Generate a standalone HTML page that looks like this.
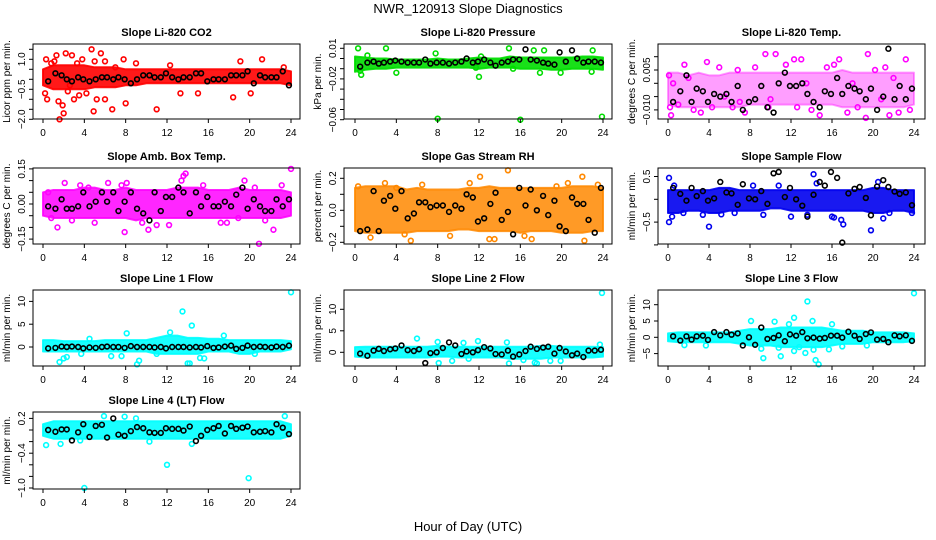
<!DOCTYPE html>
<html><head><meta charset="utf-8"><style>
html,body{margin:0;padding:0;background:#fff}
svg{display:block;font-family:"Liberation Sans",sans-serif}
</style></head><body>
<svg id="chart" width="936" height="540" viewBox="0 0 936 540" xmlns="http://www.w3.org/2000/svg">
<text x="468" y="13" text-anchor="middle" font-size="13">NWR_120913  Slope Diagnostics</text>
<text x="468" y="531" text-anchor="middle" font-size="13">Hour of Day (UTC)</text>
</svg>
<script>
const xTicks=[0,4,8,12,16,20,24];
const bandHours=[0,1,2,3,4,5,6,7,8,9,10,11,12,13,14,15,16,17,18,19,20,21,22,23,24];
const blackHours=[0.5,1.2,1.8,2.3,2.8,3.4,3.9,4.5,5.1,5.7,6.2,6.8,7.3,7.9,8.5,9.1,9.7,10.3,10.8,11.4,11.9,12.5,13.1,13.6,14.2,14.8,15.3,15.9,16.5,17.0,17.6,18.2,18.7,19.3,19.8,20.4,21.0,21.5,22.1,22.6,23.2,23.8];

// CO2
const co2Lo=[-0.3,-0.5,-0.5,-0.5,-0.5,-0.4,-0.4,-0.4,-0.3,-0.3,-0.2,-0.2,-0.2,-0.2,-0.2,-0.2,-0.2,-0.2,-0.2,-0.2,-0.2,-0.2,-0.2,-0.2,-0.3];
const co2Hi=[0.5,0.7,0.7,0.7,0.7,0.6,0.6,0.6,0.5,0.5,0.5,0.5,0.5,0.5,0.5,0.5,0.5,0.5,0.5,0.5,0.5,0.5,0.5,0.5,0.4];
const co2Out=[[0.3,1.0],[0.4,-1.0],[0.8,0.8],[1.3,1.2],[1.5,-1.1],[1.6,-2.0],[1.9,-1.3],[2.2,1.3],[2.4,-0.6],[2.8,1.2],[3.0,-1.0],[3.5,-0.8],[4.7,1.5],[4.9,-1.6],[5.2,-1.0],[5.6,1.3],[6.0,-1.0],[6.7,-1.5],[7.8,1.0],[8.0,-1.2],[9.0,0.8],[11.0,-1.5],[12.3,0.7],[13.3,-0.7],[19.1,0.9],[18.4,-0.9],[21.2,1.0],[23.3,0.6],[20.1,-0.7],[15.0,-0.7],[6.0,0.9],[3.3,0.8],[1.1,0.9],[2.0,-1.7],[0.2,-0.7],[2.6,-0.3],[4.2,-0.7],[5.0,0.9],[7.0,0.6],[3.8,1.0]];
const co2Black=[-0.1,0.3,0.2,0.0,-0.1,0.1,0.0,-0.1,0.0,0.1,0.1,0.0,0.1,0.0,-0.2,0.0,0.2,0.2,0.1,0.1,0.3,0.1,0.0,0.1,0.1,0.3,0.3,-0.1,0.0,0.0,0.0,0.2,0.2,0.2,0.4,-0.2,0.2,0.1,0.1,0.1,0.4,-0.3];

// Pressure
const prLo=[-0.013,-0.011,-0.010,-0.010,-0.009,-0.009,-0.009,-0.009,-0.009,-0.009,-0.009,-0.009,-0.010,-0.009,-0.009,-0.009,-0.010,-0.010,-0.010,-0.011,-0.011,-0.010,-0.010,-0.010,-0.011];
const prHi=[0.002,0.001,0.000,0.000,-0.001,-0.001,-0.001,-0.001,0.000,-0.001,-0.001,0.000,0.001,0.000,0.000,0.002,0.001,0.001,0.001,0.001,0.001,0.001,0.002,0.002,0.001];
const prOut=[[0.3,0.010],[0.5,-0.012],[0.6,-0.016],[3.0,0.010],[4.0,-0.014],[8.0,-0.059],[12.0,-0.018],[12.2,0.002],[16.0,-0.060],[14.9,0.010],[15.3,-0.010],[17.9,-0.014],[18.3,0.008],[19.9,-0.014],[23.0,0.008],[23.9,-0.057],[17.3,0.008],[22.9,-0.013],[1.2,0.003],[7.8,0.005],[11.7,-0.009]];
const prBlack=[-0.008,-0.004,-0.003,-0.005,-0.004,-0.003,-0.002,-0.003,-0.004,-0.004,-0.004,-0.001,-0.005,-0.004,-0.004,-0.005,-0.004,-0.003,0.000,-0.004,-0.003,-0.001,-0.004,-0.007,-0.004,-0.003,-0.001,-0.001,0.009,-0.001,-0.002,-0.004,-0.005,-0.006,0.006,-0.003,0.008,0.000,-0.004,-0.003,-0.003,-0.004];

// Li-820 temp
const tpLo=[-0.008,-0.009,-0.009,-0.009,-0.009,-0.009,-0.009,-0.009,-0.008,-0.008,-0.008,-0.008,-0.008,-0.008,-0.008,-0.008,-0.008,-0.009,-0.009,-0.009,-0.009,-0.009,-0.009,-0.009,-0.008];
const tpHi=[0.004,0.004,0.003,0.004,0.003,0.003,0.004,0.004,0.004,0.004,0.004,0.004,0.004,0.004,0.004,0.004,0.004,0.005,0.004,0.004,0.004,0.004,0.004,0.004,0.004];
const tpOut=[[0.2,-0.009],[0.3,-0.012],[0.1,0.003],[1.6,0.007],[3.2,-0.011],[3.8,0.008],[6.8,0.005],[7.5,-0.011],[9.5,0.011],[10.5,0.011],[12.3,0.009],[13.0,0.009],[14.0,-0.010],[14.8,-0.012],[16.7,0.009],[19.5,0.011],[19.3,-0.013],[20.2,0.005],[21.6,-0.012],[22.5,-0.011],[23.2,0.009],[2.5,-0.010],[5.0,0.006],[8.5,0.006],[11.5,0.007],[15.5,0.006],[17.5,-0.011],[18.5,-0.009],[9.8,-0.009],[12.6,-0.009],[4.3,-0.009],[1.0,-0.008],[6.3,-0.009],[21.2,0.006],[23.6,-0.010],[16.2,0.007],[0.5,0.0],[2.0,0.002],[5.5,-0.005],[7.0,-0.007],[10.0,-0.006],[13.5,0.0],[18.0,0.0],[20.8,-0.006],[22.0,0.002]];
const tpBlack=[-0.007,-0.003,0.003,-0.007,-0.002,-0.003,-0.007,-0.004,-0.005,-0.004,-0.007,-0.001,-0.010,-0.007,-0.006,-0.001,-0.009,-0.011,0.000,0.004,-0.001,-0.001,0.000,-0.004,-0.007,-0.009,-0.003,-0.004,0.002,-0.004,-0.001,-0.002,-0.003,-0.006,-0.002,-0.010,-0.005,0.013,-0.006,-0.001,-0.006,-0.002];

// Amb box temp
const abLo=[-0.05,-0.06,-0.06,-0.06,-0.06,-0.06,-0.06,-0.06,-0.06,-0.07,-0.06,-0.06,-0.06,-0.06,-0.06,-0.06,-0.06,-0.06,-0.06,-0.06,-0.06,-0.06,-0.06,-0.06,-0.05];
const abHi=[0.05,0.06,0.06,0.06,0.07,0.07,0.06,0.06,0.07,0.06,0.06,0.06,0.06,0.07,0.07,0.07,0.06,0.06,0.06,0.07,0.06,0.06,0.06,0.06,0.05];
const abOut=[[0.8,-0.06],[1.4,-0.1],[2.1,0.09],[2.8,-0.07],[3.6,0.08],[5.0,-0.08],[6.3,0.09],[7.9,-0.12],[7.6,0.08],[8.1,0.09],[9.6,-0.08],[10.2,-0.11],[11.0,-0.09],[12.2,-0.09],[13.4,0.1],[13.6,0.12],[13.8,0.13],[15.5,0.08],[17.2,-0.08],[17.8,-0.08],[19.5,0.1],[20.5,0.07],[20.9,-0.17],[22.3,-0.11],[23.1,0.08],[24.0,0.15],[18.9,-0.06],[21.5,-0.07],[4.4,0.07],[0.5,0.05]];
const abBlack=[-0.01,-0.02,0.02,-0.02,-0.02,-0.01,0.05,-0.01,0.01,0.05,0.01,0.05,-0.03,0.01,0.05,-0.02,-0.04,-0.07,0.05,-0.03,0.03,0.03,0.07,0.05,-0.04,0.05,-0.01,0.03,-0.01,-0.01,0.01,-0.01,0.04,0.07,-0.02,0.02,-0.01,-0.03,-0.03,0.02,-0.01,0.02];

// Gas stream RH
const rhLo=[-0.13,-0.14,-0.14,-0.14,-0.14,-0.14,-0.13,-0.13,-0.13,-0.13,-0.12,-0.12,-0.13,-0.13,-0.13,-0.13,-0.14,-0.13,-0.13,-0.13,-0.14,-0.14,-0.14,-0.13,-0.13];
const rhHi=[0.14,0.15,0.15,0.15,0.15,0.13,0.14,0.13,0.13,0.13,0.13,0.14,0.14,0.15,0.14,0.14,0.14,0.14,0.14,0.14,0.14,0.15,0.15,0.15,0.14];
const rhOut=[[0.3,0.15],[1.5,-0.17],[2.9,0.17],[4.0,0.14],[4.8,-0.15],[5.4,-0.19],[6.5,0.16],[9.2,-0.16],[11.1,0.17],[12.1,0.21],[13.0,-0.18],[13.5,-0.18],[14.8,0.25],[16.4,-0.16],[17.1,-0.18],[19.5,0.15],[20.6,0.17],[22.0,0.21],[22.2,-0.19],[23.5,0.16]];
const rhBlack=[-0.13,-0.12,0.12,-0.13,0.06,0.09,0.01,0.12,-0.05,-0.02,0.05,0.05,0.02,0.03,0.03,-0.01,0.03,0.01,0.10,0.08,-0.07,-0.05,0.04,0.11,-0.06,-0.01,-0.15,0.14,0.03,0.13,0.00,0.09,-0.03,0.06,-0.10,-0.13,0.08,0.04,0.04,-0.06,-0.14,0.14];

// Sample flow
const sfLo=[-0.3,-0.3,-0.25,-0.25,-0.3,-0.3,-0.25,-0.25,-0.25,-0.25,-0.2,-0.2,-0.25,-0.25,-0.25,-0.25,-0.25,-0.25,-0.25,-0.25,-0.3,-0.3,-0.25,-0.25,-0.3];
const sfHi=[0.2,0.2,0.2,0.2,0.2,0.25,0.25,0.2,0.2,0.2,0.2,0.2,0.2,0.2,0.2,0.2,0.2,0.2,0.2,0.2,0.25,0.25,0.2,0.2,0.2];
const sfOut=[[0.1,0.47],[0.1,-0.5],[0.4,-0.38],[0.6,0.3],[1.5,-0.3],[3.4,-0.34],[4.0,-0.6],[5.2,-0.33],[6.5,-0.3],[8.3,0.3],[9.3,-0.34],[10.8,0.3],[12.0,-0.38],[13.6,-0.34],[14.2,0.55],[14.5,0.35],[16.0,-0.38],[16.2,-0.4],[16.9,-0.45],[17.1,-0.55],[19.8,-0.68],[20.5,0.38],[21.0,-0.42],[23.8,-0.3],[21.6,-0.3]];
const sfBlack=[0.25,0.12,-0.03,0.25,0.07,0.18,-0.03,0.02,0.38,0.15,0.13,-0.12,0.33,0.02,0.00,0.18,-0.1,0.57,0.6,0.05,0.25,0.0,-0.14,-0.38,0.1,0.38,0.3,0.6,0.47,-0.95,0.13,0.23,0.27,0.03,-0.35,0.28,0.42,0.27,0.17,0.12,0.15,-0.13];

// Line 1 flow
const l1Lo=[-1,-1,-1,-1,-1,-1,-1,-1,-1,-1,-1,-1.5,-1.5,-1.5,-1.5,-1.5,-1,-1,-1,-1.5,-1.5,-1,-1,-1,-0.5];
const l1Hi=[1.5,1.5,1.3,1.3,1.3,1.3,1.5,1.5,1.5,1.5,1.5,2,2.5,2.5,2,2,1.8,1.8,1.5,1.5,1.5,1.5,1.5,1.5,1.3];
const l1Out=[[1.6,-3.3],[2.0,-2.5],[2.3,-2.2],[3.7,-1.5],[6.6,-2.0],[7.6,-2.0],[9.1,-3.8],[9.3,-3.0],[8.1,3.0],[13.5,7.8],[14.0,-3.6],[14.2,-3.6],[14.4,4.7],[15.2,-2.4],[15.6,-2.5],[11.0,-1.5],[12.3,3.2],[24.0,12.0],[17.5,2.5],[20.5,-1.5],[4.5,1.8]];
const l1Black=[-0.3,-0.2,0.1,0.0,0.1,0.0,-0.3,-0.1,-0.2,0.0,0.1,0.0,0.0,-0.2,0.2,0.0,0.0,0.0,-0.1,0.0,-0.3,0.0,0.0,0.0,-0.1,0.0,-0.1,0.2,-0.2,-0.1,0.1,0.3,-0.4,-0.2,0.3,0.0,0.1,0.0,-0.1,0.1,0.0,0.3];

// Line 2 flow
const l2Lo=[-1,-1.2,-1.2,-1.2,-1.2,-1.2,-1.2,-1.2,-1,-1,-1.2,-1.2,-1.2,-1.2,-1.2,-1.5,-1.5,-1.5,-1.5,-1.2,-1.2,-1.2,-1.2,-1.2,-1];
const l2Hi=[1.2,1.3,1.3,1.3,1.3,1.3,1.3,1.3,1.5,1.3,1.3,1.3,1.3,1.3,1.3,1.3,1.3,1.3,1.5,1.5,1.3,1.3,1.3,1.3,1.2];
const l2Out=[[6.0,3.2],[8.1,-2.5],[8.0,2.4],[9.4,-2.0],[10.5,2.2],[11.0,-1.5],[11.9,2.6],[14.7,2.3],[14.9,-2.6],[17.4,-2.4],[17.6,-2.6],[18.9,-2.0],[19.9,-2.0],[23.9,13.8],[23.7,1.8],[16.3,-1.8]];
const l2Black=[-0.3,-0.8,0.4,0.8,0.3,0.7,0.9,1.6,0.5,0.3,0.7,-2.5,-0.2,0.0,1.0,2.3,1.6,-0.4,0.2,0.0,0.5,1.2,0.9,-0.4,-0.5,0.4,-1.0,-0.5,0.3,1.3,0.8,1.1,1.3,-0.3,1.0,0.2,-0.7,-0.3,-1.1,0.4,0.4,0.6];

// Line 3 flow
const l3Lo=[-1.2,-1.5,-1.5,-1.5,-1.5,-1.5,-1.5,-2,-2.5,-2.5,-2.5,-3,-3,-3,-3,-3,-2.5,-2,-2,-2,-1.5,-1.5,-1.5,-1.5,-1.2];
const l3Hi=[1.2,1.5,1.5,1.5,1.5,1.5,1.5,2,2.5,2.5,2.5,3,3,3,3,3,2.5,2,2,2,1.5,1.5,1.5,1.5,1.2];
const l3Out=[[1.6,-2.4],[3.7,-2.5],[8.1,5.0],[9.3,-6.4],[9.1,-3.5],[10.4,4.8],[11.0,-5.8],[12.3,6.0],[12.3,-4.2],[13.6,11.0],[13.4,-4.8],[14.1,5.0],[14.4,-7.0],[14.7,-8.3],[14.2,-3.8],[16.0,4.0],[15.7,-3.7],[17.0,-2.8],[19.4,-2.5],[24.0,13.5],[10.8,-3.2],[12.8,-3.0],[11.8,4.0]];
const l3Black=[0.3,-1.0,0.3,-0.7,0.3,0.5,-0.8,1.6,0.6,1.6,0.8,1.2,-2.5,0.0,-2.3,3.0,-0.5,-0.2,0.6,-1.2,0.9,0.5,1.6,-0.3,-0.1,-0.4,-0.2,0.5,0.5,-0.1,1.7,0.5,-0.5,1.0,1.5,-0.7,-0.5,-1.5,0.6,0.3,0.6,-1.1];

// Line 4 (LT) flow
const l4Lo=[-0.1,-0.15,-0.15,-0.15,-0.15,-0.15,-0.15,-0.15,-0.15,-0.15,-0.15,-0.15,-0.15,-0.15,-0.15,-0.15,-0.15,-0.15,-0.15,-0.15,-0.15,-0.15,-0.15,-0.15,-0.1];
const l4Hi=[0.1,0.15,0.15,0.15,0.15,0.15,0.15,0.15,0.15,0.15,0.15,0.15,0.15,0.15,0.15,0.15,0.15,0.15,0.15,0.15,0.15,0.15,0.15,0.15,0.1];
const l4Out=[[0.3,-0.26],[1.7,-0.24],[4.0,-1.0],[5.9,0.24],[7.9,0.23],[10.3,-0.2],[12.0,-0.6],[14.4,-0.24],[19.9,-0.83],[23.4,0.24],[3.6,-0.18],[9.0,0.2]];
const l4Black=[0.0,-0.03,0.01,0.01,-0.18,-0.04,0.1,-0.12,0.07,0.09,-0.13,0.2,-0.08,-0.1,-0.02,0.05,0.03,-0.04,-0.05,-0.05,0.03,0.02,0.02,-0.01,0.06,-0.19,-0.1,0.0,0.03,0.07,-0.06,0.07,0.02,0.04,0.06,-0.04,-0.03,-0.02,-0.04,0.1,0.04,-0.07];

const panels=[
 {n:'co2',title:'Slope Li-820 CO2',ylab:'Licor ppm per min.',bx:[33,300],x0:43,x24:291,by:[44,119],v0:1.5,y0:49.3,ppu:20,ticks:[1.5,1.0,0.5,0,-0.5,-1.0,-1.5,-2.0],labs:[[1.0,'1.0'],[-0.5,'\u22120.5'],[-2.0,'\u22122.0']],col:'#ff0000',lo:co2Lo,hi:co2Hi,out:co2Out,blk:co2Black,op:0.9},
 {n:'pressure',title:'Slope Li-820 Pressure',ylab:'kPa per min.',bx:[344,612],x0:355,x24:603,by:[44,119],v0:0.01,y0:48.3,ppu:1020,ticks:[0.01,0,-0.01,-0.02,-0.03,-0.04,-0.05,-0.06],labs:[[0.01,'0.01'],[-0.02,'\u22120.02'],[-0.06,'\u22120.06']],col:'#00dd00',lo:prLo,hi:prHi,out:prOut,blk:prBlack,op:0.9},
 {n:'li820-temp',title:'Slope Li-820 Temp.',ylab:'degrees C per min.',bx:[658,925],x0:668,x24:914,by:[44,119],v0:0.01,y0:56.7,ppu:2660,ticks:[0.01,0.005,0,-0.005,-0.01],labs:[[0.005,'0.005'],[-0.01,'\u22120.010']],col:'#ff00ff',lo:tpLo,hi:tpHi,out:tpOut,blk:tpBlack,op:0.38},
 {n:'amb-box-temp',title:'Slope Amb. Box Temp.',ylab:'degrees C per min.',bx:[33,300],x0:43,x24:291,by:[168,244],v0:0,y0:204,ppu:234,ticks:[0.15,0.1,0.05,0,-0.05,-0.1,-0.15],labs:[[0.15,'0.15'],[0,'0.00'],[-0.15,'\u22120.15']],col:'#ff00ff',lo:abLo,hi:abHi,out:abOut,blk:abBlack,op:0.85},
 {n:'gas-stream-rh',title:'Slope Gas Stream RH',ylab:'percent per min.',bx:[344,612],x0:355,x24:603,by:[168,244],v0:0,y0:210.3,ppu:160,ticks:[0.2,0.1,0,-0.1,-0.2],labs:[[0.2,'0.2'],[0,'0.0'],[-0.2,'\u22120.2']],col:'#ff8800',lo:rhLo,hi:rhHi,out:rhOut,blk:rhBlack,op:0.85},
 {n:'sample-flow',title:'Slope Sample Flow',ylab:'ml/min per min.',bx:[658,925],x0:668,x24:914,by:[168,244],v0:0,y0:199.3,ppu:45.6,ticks:[0.5,0,-0.5,-1.0],labs:[[0.5,'0.5'],[-0.5,'\u22120.5']],col:'#0000ee',lo:sfLo,hi:sfHi,out:sfOut,blk:sfBlack,op:0.9},
 {n:'line1-flow',title:'Slope Line 1 Flow',ylab:'ml/min per min.',bx:[33,300],x0:43,x24:291,by:[290,366],v0:0,y0:347,ppu:4.56,ticks:[10,5,0],labs:[[10,'10'],[5,'5'],[0,'0']],col:'#00ffff',lo:l1Lo,hi:l1Hi,out:l1Out,blk:l1Black,op:0.9},
 {n:'line2-flow',title:'Slope Line 2 Flow',ylab:'ml/min per min.',bx:[344,612],x0:355,x24:603,by:[290,366],v0:0,y0:352.3,ppu:4.3,ticks:[10,5,0],labs:[[10,'10'],[5,'5'],[0,'0']],col:'#00ffff',lo:l2Lo,hi:l2Hi,out:l2Out,blk:l2Black,op:0.9},
 {n:'line3-flow',title:'Slope Line 3 Flow',ylab:'ml/min per min.',bx:[658,925],x0:668,x24:914,by:[290,366],v0:0,y0:337.3,ppu:3.26,ticks:[10,5,0,-5],labs:[[10,'10'],[5,'5'],[0,'0'],[-5,'\u22125']],col:'#00ffff',lo:l3Lo,hi:l3Hi,out:l3Out,blk:l3Black,op:0.9},
 {n:'line4-flow',title:'Slope Line 4 (LT) Flow',ylab:'ml/min per min.',bx:[33,300],x0:43,x24:291,by:[412,489],v0:0,y0:430,ppu:58,ticks:[0.2,0,-0.2,-0.4,-0.6,-0.8,-1.0],labs:[[0.2,'0.2'],[-0.4,'\u22120.4'],[-1.0,'\u22121.0']],col:'#00ffff',lo:l4Lo,hi:l4Hi,out:l4Out,blk:l4Black,op:0.9}
];
const NS='http://www.w3.org/2000/svg';
const svg=document.getElementById('chart');
function mk(tag,attrs,parent){const e=document.createElementNS(NS,tag);for(const k in attrs)e.setAttribute(k,attrs[k]);(parent||svg).appendChild(e);return e;}
panels.forEach(p=>{
 const g=mk('g',{});
 
 
 const xs=h=>p.x0+(p.x24-p.x0)*h/24;
 const ys=v=>p.y0+(p.v0-v)*p.ppu;
 const cx=(p.bx[0]+p.bx[1])/2;
 const t=mk('text',{x:cx,y:p.by[0]-8,'text-anchor':'middle','font-size':11,'font-weight':'bold'},g);
 t.textContent=p.title;
 
 
 let pts=bandHours.map((h,i)=>xs(h)+','+ys(p.hi[i]));
 pts=pts.concat(bandHours.slice().reverse().map((h,j)=>{const i=bandHours.length-1-j;return xs(h)+','+ys(p.lo[i]);}));
 const band=mk('polygon',{points:pts.join(' '),fill:p.col,'fill-opacity':p.op,stroke:p.col,'stroke-width':2,'stroke-opacity':p.op,'stroke-linejoin':'round'},g);
 
 
 p.out.forEach(d=>{
  const c=mk('circle',{cx:xs(d[0]),cy:ys(d[1]),r:2.4,fill:'none',stroke:p.col,'stroke-width':1.6},g);
  
  
 });
 p.blk.forEach((v,i)=>{
  const c=mk('circle',{cx:xs(blackHours[i]),cy:ys(v),r:2.4,fill:'none',stroke:'#000','stroke-width':1.6},g);
  
  
 });
 const box=mk('rect',{x:p.bx[0],y:p.by[0],width:p.bx[1]-p.bx[0],height:p.by[1]-p.by[0],fill:'none',stroke:'#000','stroke-width':1},g);
 
 
 xTicks.forEach(v=>{
  mk('line',{x1:xs(v),x2:xs(v),y1:p.by[1],y2:p.by[1]+4,stroke:'#000'},g);
  const tl=mk('text',{x:xs(v),y:p.by[1]+17,'text-anchor':'middle','font-size':10},g);
  tl.textContent=v;
  
  
 });
 p.ticks.forEach(v=>{mk('line',{x1:p.bx[0]-4,x2:p.bx[0],y1:ys(v),y2:ys(v),stroke:'#000'},g);});
 p.labs.forEach(l=>{
  const tx=p.bx[0]-8,ty=ys(l[0]);
  const tl=mk('text',{x:tx,y:ty,'text-anchor':'middle','font-size':10,transform:'rotate(-90 '+tx+' '+ty+')'},g);
  tl.textContent=l[1];
  
  
 });
 const yx=p.bx[0]-23,yy=(p.by[0]+p.by[1])/2;
 const yl=mk('text',{x:yx,y:yy,'text-anchor':'middle','font-size':10,transform:'rotate(-90 '+yx+' '+yy+')'},g);
 yl.textContent=p.ylab;
 
 
});
</script>
</body></html>
